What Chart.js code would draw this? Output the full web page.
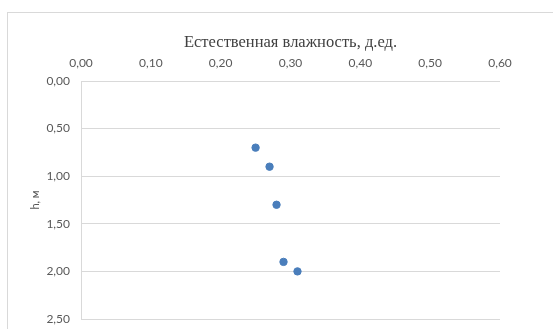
<!DOCTYPE html>
<html>
<head>
<meta charset="utf-8">
<script src="https://cdn.jsdelivr.net/npm/chart.js@4"></script>
<style>
  html, body { margin: 0; padding: 0; background: #fff; overflow: hidden; }
  #frame {
    position: absolute; left: 7px; top: 12px; width: 600px; height: 400px;
    border: 1px solid #d9d9d9;
  }
  #wrap { position: absolute; left: 0; top: 0; width: 553px; height: 329px; }
</style>
</head>
<body>
<div id="frame"></div>
<div id="wrap"><canvas id="chart"></canvas></div>
<script>
// Natural moisture vs depth
const moisture = [0.25, 0.27, 0.28, 0.29, 0.31];
const depth = [0.7, 0.9, 1.3, 1.9, 2.0];
const xTicks = [0, 0.1, 0.2, 0.3, 0.4, 0.5, 0.6];
const yTicks = [0, 0.5, 1.0, 1.5, 2.0, 2.5];

const fmt = v => Number(v).toFixed(2).replace('.', ',');
const labelFont = { family: 'Lato', size: 12 };

new Chart(document.getElementById('chart'), {
    type: 'scatter',
    data: {
        datasets: [{
            data: moisture.map((m, i) => ({ x: m, y: depth[i] })),
            backgroundColor: '#4a7ebb',
            borderColor: '#4a7ebb',
            pointRadius: 3.7,
            pointHoverRadius: 3.7
        }]
    },
    options: {
        responsive: true,
        maintainAspectRatio: false,
        animation: false,
        layout: { padding: { left: 0, top: 0, right: 53, bottom: 10 } },
        plugins: { legend: { display: false }, tooltip: { enabled: false } },
        scales: {
            x: {
                type: 'linear',
                position: 'top',
                min: 0,
                max: 0.6,
                afterBuildTicks: s => { s.ticks = xTicks.map(v => ({ value: v })); },
                afterFit: s => { s.height = 81; s.paddingLeft = 0; s.paddingRight = 0; },
                grid: { display: false, drawTicks: false },
                border: { display: false },
                ticks: { color: '#595959', font: labelFont, padding: 11, maxRotation: 0, callback: fmt },
                title: {
                    display: true,
                    text: 'Естественная влажность, д.ед.',
                    color: '#404040',
                    font: { family: 'Liberation Serif', size: 16.5 },
                    padding: { top: 33, bottom: 0 }
                }
            },
            y: {
                type: 'linear',
                reverse: true,
                min: 0,
                max: 2.5,
                afterBuildTicks: s => { s.ticks = yTicks.map(v => ({ value: v })); },
                afterFit: s => { s.width = 81; s.paddingTop = 0; s.paddingBottom = 0; },
                grid: { color: '#d9d9d9', drawTicks: false },
                border: { display: true, color: '#d9d9d9' },
                ticks: { color: '#595959', font: labelFont, padding: 11, callback: fmt },
                title: {
                    display: true,
                    text: 'h, м',
                    color: '#595959',
                    font: { family: 'Lato', size: 11 },
                    padding: { top: 29, bottom: 0 }
                }
            }
        }
    }
});
</script>
</body>
</html>
